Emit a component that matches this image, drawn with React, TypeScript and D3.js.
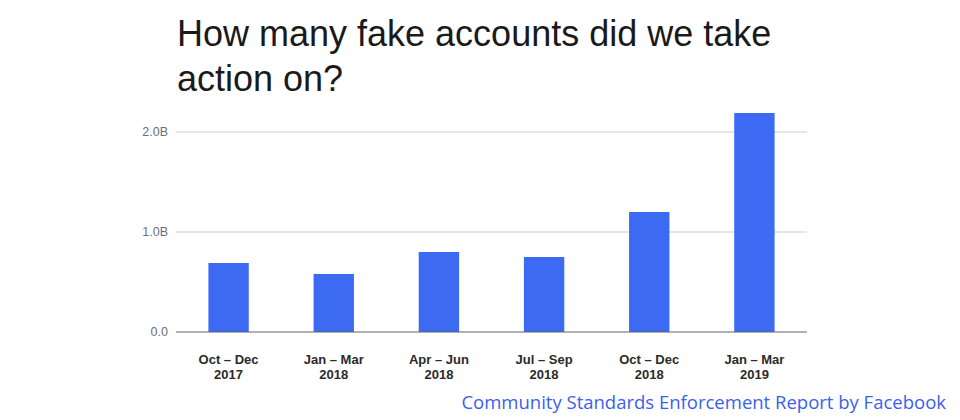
import * as d3 from "d3";

const quarters = ["Oct – Dec", "Jan – Mar", "Apr – Jun", "Jul – Sep", "Oct – Dec", "Jan – Mar"];
const years = ["2017", "2018", "2018", "2018", "2018", "2019"];
const fakeAccounts = [0.69, 0.58, 0.8, 0.75, 1.2, 2.19];
const yTicks = [0, 1, 2];
const yTickLabels = ["0.0", "1.0B", "2.0B"];

const W = 960;
const H = 420;
const margin = { top: 132, right: 153, bottom: 88, left: 176 };

export default function App() {
  const chartW = W - margin.left - margin.right;
  const chartH = H - margin.top - margin.bottom;
  const ids = quarters.map((_, i) => String(i));

  const x = d3.scaleBand<string>().domain(ids).range([0, chartW]).paddingInner(0.616).paddingOuter(0.308);
  const y = d3.scaleLinear().domain([0, 2]).range([chartH, 0]);

  return (
    <svg
      width={W}
      height={H}
      style={{ display: "block", position: "absolute", left: 0, top: 0, background: "#fff" }}
    >
      <text x={177} y={46} fontFamily="Liberation Sans, Arial, sans-serif" fontSize={36} fill="#1a1a1a">
        How many fake accounts did we take
      </text>
      <text x={177} y={91} fontFamily="Liberation Sans, Arial, sans-serif" fontSize={36} fill="#1a1a1a">
        action on?
      </text>

      <g transform={`translate(${margin.left},${margin.top})`}>
        {yTicks.map((t, i) => (
          <g key={t}>
            {t > 0 && <line x1={0} x2={chartW} y1={y(t)} y2={y(t)} stroke="#cbcdd6" strokeWidth={1} />}
            <text
              x={-8}
              y={y(t)}
              dy="0.35em"
              textAnchor="end"
              fontFamily="Liberation Sans, Arial, sans-serif"
              fontSize={12.5}
              fill="#6b6f7a"
            >
              {yTickLabels[i]}
            </text>
          </g>
        ))}

        {fakeAccounts.map((v, i) => (
          <rect
            key={i}
            x={x(String(i))}
            y={y(v)}
            width={x.bandwidth()}
            height={chartH - y(v)}
            fill="#3d6af2"
          />
        ))}

        <line x1={0} x2={chartW} y1={chartH} y2={chartH} stroke="#5f6670" strokeWidth={1.2} />

        {quarters.map((q, i) => {
          const cx = (x(String(i)) ?? 0) + x.bandwidth() / 2;
          return (
            <text
              key={i}
              x={cx}
              textAnchor="middle"
              fontFamily="Liberation Sans, Arial, sans-serif"
              fontSize={13}
              fontWeight="bold"
              fill="#2a2a2a"
            >
              <tspan x={cx} y={chartH + 31.5}>{q}</tspan>
              <tspan x={cx} y={chartH + 47}>{years[i]}</tspan>
            </text>
          );
        })}
      </g>

      <text
        x={946}
        y={409}
        textAnchor="end"
        fontFamily="Open Sans, Lato, sans-serif"
        fontSize={18.5}
        fill="#3b5ff0"
      >
        Community Standards Enforcement Report by Facebook
      </text>
    </svg>
  );
}
